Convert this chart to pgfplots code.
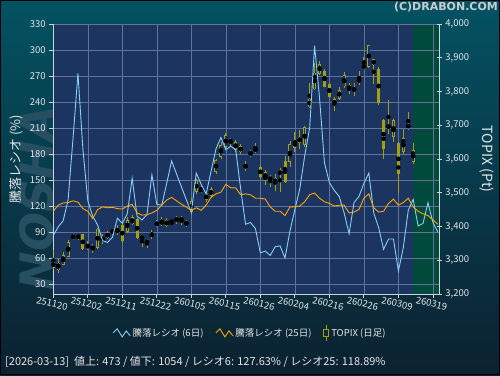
\documentclass[border=0pt]{standalone}
\usepackage{fontspec}
\setmainfont{Noto Sans CJK JP}
\newfontfamily\dvs{DejaVu Sans}
\usepackage{pgfplots}
\pgfplotsset{compat=1.18}
\usepackage{pgfplotstable}

\definecolor{bgtop}{RGB}{3,82,98}
\definecolor{bgmid}{RGB}{10,50,68}
\definecolor{bgbot}{RGB}{12,33,48}
\definecolor{plotbg}{RGB}{28,52,96}
\definecolor{futbg}{RGB}{0,74,60}
\definecolor{gridc}{RGB}{95,115,155}
\definecolor{axc}{RGB}{205,212,220}
\definecolor{txt}{RGB}{228,230,232}
\definecolor{r6c}{RGB}{135,206,250}
\definecolor{r25c}{RGB}{255,165,0}
\definecolor{cndl}{RGB}{160,160,18}
\definecolor{wmark}{RGB}{38,80,97}

\pgfplotstableread{
i r6 r25
0 86 114
1 96 121
2 103 123.5
3 127 124
4 198 126
5 273 124.5
6 186 117
7 126 114
8 108 105.5
9 98 116
10 80 119
11 78 118
12 84 118.5
13 106 117
14 100 116.5
15 111 120
16 152 122
17 108 112
18 104 109.5
19 110 110
20 156 112
21 122 115
22 121 121
23 146 127
24 172 130
25 157 126
26 142 122
27 127 118.7
28 113 115
29 158 118
30 145 115
31 134 121
32 160 130
33 186 134
34 199 136
35 185 145
36 189 141
37 185 141
38 140 133
39 99 134
40 101 133
41 94 129
42 66 129
43 68 128
44 63 119
45 73 114
46 74 114
47 60 109
48 91 119
49 116 119
50 140 120
51 178 125
52 210 133
53 305 135
54 245 129
55 170 125
56 147 123
57 138 120
58 131 121
59 112 121
60 88 112
61 124 113
62 131 116
63 146 129
64 158 134
65 112 118
66 95 113
67 70 114
68 82 123
69 82 128
70 45 121
71 72 124
72 115 129
73 127.63 118.89
74 97 114
75 100 111
76 124 109
77 101 104
78 90 99
}\ratios

% TOPIX daily candles: index, open, high, low, close
\pgfplotstableread{
i O H L C
0 3277 3329 3270 3297
1 3270 3305 3263 3293
2 3287 3324 3285 3316
3 3310 3359 3309 3354
4 3368 3378 3359 3371
5 3364 3379 3359 3377
6 3377 3379 3329 3332
7 3347 3356 3329 3336
8 3342 3349 3322 3331
9 3336 3396 3334 3394
10 3369 3379 3349 3356
11 3366 3386 3362 3382
12 3389 3394 3376 3381
13 3382 3403 3374 3392
14 3405 3408 3352 3356
15 3384 3428 3382 3420
16 3406 3433 3403 3428
17 3423 3425 3364 3367
18 3369 3374 3339 3365
19 3353 3364 3336 3356
20 3369 3389 3364 3381
21 3413 3418 3399 3402
22 3403 3428 3402 3421
23 3418 3424 3399 3402
24 3418 3418 3403 3411
25 3419 3431 3408 3422
26 3417 3431 3403 3425
27 3415 3418 3400 3405
28 3443 3483 3435 3475
29 3502 3542 3497 3537
30 3505 3522 3500 3511
31 3497 3501 3473 3480
32 3490 3517 3485 3512
33 3562 3601 3557 3596
34 3606 3651 3601 3641
35 3636 3676 3630 3670
36 3658 3663 3640 3648
37 3628 3655 3622 3651
38 3638 3643 3615 3621
39 3572 3593 3564 3586
40 3623 3628 3606 3611
41 3633 3646 3618 3623
42 3577 3582 3542 3547
43 3540 3567 3522 3562
44 3538 3552 3517 3545
45 3527 3557 3504 3544
46 3553 3572 3502 3566
47 3593 3610 3530 3532
48 3591 3652 3575 3645
49 3633 3680 3620 3656
50 3666 3685 3631 3646
51 3641 3697 3636 3695
52 3753 3824 3750 3779
53 3806 3883 3804 3856
54 3853 3889 3848 3882
55 3861 3868 3812 3814
56 3822 3824 3782 3784
57 3779 3784 3743 3757
58 3779 3812 3774 3805
59 3815 3858 3809 3848
60 3818 3824 3792 3805
61 3802 3825 3786 3812
62 3826 3862 3818 3839
63 3871 3903 3870 3878
64 3873 3939 3871 3938
65 3878 3896 3821 3895
66 3866 3873 3760 3766
67 3717 3720 3600 3630
68 3692 3774 3675 3700
69 3666 3720 3651 3715
70 3646 3650 3500 3555
71 3621 3690 3616 3661
72 3695 3740 3685 3700
73 3591 3646 3586 3626
}\topix

\pgfplotsset{
  zigzag/.style={legend image code/.code={\draw[##1] (0pt,0pt)--(4pt,4pt)--(9pt,-4pt)--(13pt,2pt)--(17pt,-3pt);}},
  candlebar/.style n args={2}{only marks, mark=none,
    error bars/.cd, y dir=both, y explicit, error mark=none,
    error bar style={draw=#1, line width=#2, line cap=butt}},
}

\begin{document}
\begin{tikzpicture}
\useasboundingbox (0,0) rectangle (500pt,375pt);
\shade[top color=bgtop, middle color=bgmid, bottom color=bgbot] (0,0) rectangle (500pt,375pt);
\node[wmark, rotate=90, font=\dvs\bfseries\itshape\fontsize{46}{46}\selectfont] at (37pt,177pt) {NOSHA};
\draw[black, line width=1pt] (0.5pt,0.5pt) rectangle (499.5pt,374.5pt);
\node[anchor=north east, inner sep=0pt, text={rgb,255:red,200;green,205;blue,210}, font=\dvs\bfseries\fontsize{11}{11}\selectfont] at (498pt,373pt) {(C)DRABON.COM};

% Axis A: background, grid, left and bottom axes
\begin{axis}[
  at={(53.3pt,81pt)}, anchor=south west, width=386pt, height=270pt, scale only axis,
  xmin=0, xmax=78.3, ymin=18.5, ymax=330,
  axis background/.style={fill=plotbg},
  axis on top,
  axis x line*=bottom, axis y line*=left,
  axis line style={axc, line width=0.9pt, -},
  xtick={0,7,...,77},
  xticklabels={251120,251202,251211,251222,260105,260115,260126,260204,260216,260226,260309,260319},
  ytick={30,60,...,330},
  grid=major, major grid style={gridc, line width=0.6pt},
  tick style={axc, line width=0.8pt}, tick align=outside, major tick length=4pt,
  ticklabel style={text=txt, font=\fontsize{9.5}{10}\selectfont},
  xticklabel style={rotate=-13, anchor=north, inner sep=2pt},
  /pgf/number format/assume math mode=true,
  ylabel={騰落レシオ (\%)},
  ylabel style={at={(axis description cs:-0.097,0.5)}, anchor=center, text=txt, font=\fontsize{13}{13}\selectfont},
]
\fill[futbg] (axis cs:73,18.5) rectangle (axis cs:78.3,330);
\end{axis}

% Axis B: TOPIX candles, right axis
\begin{axis}[
  at={(53.3pt,81pt)}, anchor=south west, width=386pt, height=270pt, scale only axis,
  xmin=0, xmax=78.3, ymin=3200, ymax=4000,
  axis x line=none, axis y line*=right,
  axis line style={axc, line width=0.9pt, -},
  ytick={3200,3300,...,4000},
  tick style={axc, line width=0.8pt}, tick align=center, major tick length=5pt,
  ticklabel style={text=txt, font=\fontsize{9.5}{10}\selectfont},
  /pgf/number format/assume math mode=true,
  yticklabel style={/pgf/number format/.cd, 1000 sep={,}},
  ylabel={TOPIX (Pt)},
  ylabel style={at={(axis description cs:1.124,0.5)}, anchor=center, rotate=180, text=txt, font=\fontsize{14}{14}\selectfont},
]
% wicks (low to high)
\addplot[candlebar={cndl}{0.8pt}] table[x=i, y expr={(\thisrow{H}+\thisrow{L})/2}, y error expr={(\thisrow{H}-\thisrow{L})/2}] {\topix};
% bodies (open to close)
\addplot[candlebar={cndl}{3pt}] table[x=i, y expr={(\thisrow{O}+\thisrow{C})/2}, y error expr={max(abs(\thisrow{C}-\thisrow{O})/2,1.2)}] {\topix};
% hollow interior of rising days
\addplot[candlebar={plotbg}{1.4pt}] table[x=i, y expr={(\thisrow{O}+\thisrow{C})/2}, y error expr={max((\thisrow{C}-\thisrow{O})/2-2.4,0)}] {\topix};
\end{axis}

% Axis C: ratio lines and legend
\begin{axis}[
  at={(53.3pt,81pt)}, anchor=south west, width=386pt, height=270pt, scale only axis,
  xmin=0, xmax=78.3, ymin=18.5, ymax=330,
  hide axis,
  legend columns=3,
  legend style={at={(0.51,-0.144)}, anchor=center, draw=none, fill=none, text=txt,
    font=\fontsize{9.5}{10}\selectfont,
    /tikz/every even column/.append style={column sep=10pt}},
]
\addplot[r6c, line width=0.9pt, zigzag] table[x=i, y=r6] {\ratios};
\addlegendentry{騰落レシオ (6日)}
\addplot[r25c, line width=0.9pt, zigzag] table[x=i, y=r25] {\ratios};
\addlegendentry{騰落レシオ (25日)}
\addlegendimage{legend image code/.code={
  \draw[cndl, line width=0.8pt] (3pt,3.5pt) -- (3pt,8pt);
  \draw[cndl, line width=0.8pt] (3pt,-3.5pt) -- (3pt,-8pt);
  \draw[cndl, line width=0.8pt] (0.5pt,-3.5pt) rectangle (5.5pt,3.5pt);}}
\addlegendentry{TOPIX (日足)}
\end{axis}

\node[anchor=west, inner sep=0pt, text=txt, font=\fontsize{11}{11}\selectfont] at (5pt,13pt)
  {[2026-03-13]\ \ 値上: 473 / 値下: 1054 / レシオ6: 127.63\% / レシオ25: 118.89\%};
\end{tikzpicture}
\end{document}
